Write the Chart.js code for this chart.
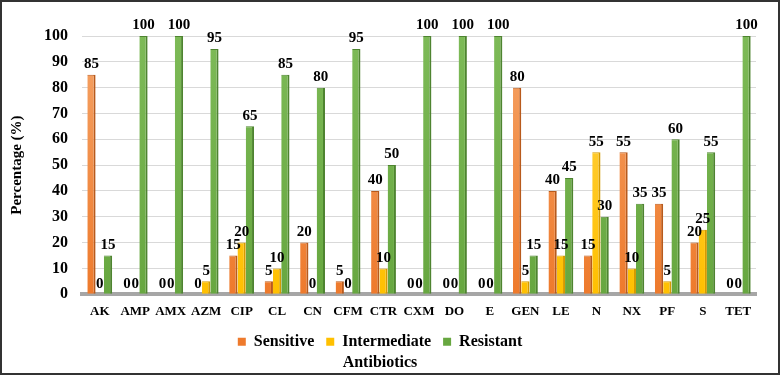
<!DOCTYPE html>
<html>
<head>
<meta charset="utf-8">
<script src="https://cdn.jsdelivr.net/npm/chart.js@4/dist/chart.umd.min.js"></script>
<style>
  html, body { margin: 0; padding: 0; background: #fff; }
  #wrap { width: 780px; height: 375px; border: 2px solid #333; box-sizing: border-box; position: relative; }
</style>
</head>
<body>
<div id="wrap"><canvas id="chart"></canvas></div>
<script>
// antibiotic codes on the x axis
const antibiotics = ['AK', 'AMP', 'AMX', 'AZM', 'CIP', 'CL', 'CN', 'CFM', 'CTR', 'CXM', 'DO', 'E', 'GEN', 'LE', 'N', 'NX', 'PF', 'S', 'TET'];

// percentages
const sensitive    = [85, 0, 0, 0, 15, 5, 20, 5, 40, 0, 0, 0, 80, 40, 15, 55, 35, 20, 0];
const intermediate = [0, 0, 0, 5, 20, 10, 0, 0, 10, 0, 0, 0, 5, 15, 55, 10, 5, 25, 0];
const resistant    = [15, 100, 100, 95, 65, 85, 80, 95, 50, 100, 100, 100, 15, 45, 30, 35, 60, 55, 100];

const yTicks = [0, 10, 20, 30, 40, 50, 60, 70, 80, 90, 100];

const serif = "'Liberation Serif', 'Times New Roman', serif";

// vertical shading like the office 3d bars, lighter at the top
function shade(light, dark) {
    return (c) => {
        const area = c.chart.chartArea;
        if (!area) return dark;
        const g = c.chart.ctx.createLinearGradient(0, area.top, 0, area.bottom);
        g.addColorStop(0, light);
        g.addColorStop(1, dark);
        return g;
    };
}

// draws the number above each bar
const barLabels = {
    id: 'barLabels',
    afterDatasetsDraw(chart) {
        const ctx = chart.ctx;
        ctx.save();
        ctx.font = 'bold 15px ' + serif;
        ctx.fillStyle = '#000';
        ctx.textAlign = 'center';
        ctx.textBaseline = 'bottom';
        chart.data.datasets.forEach((ds, i) => {
            const meta = chart.getDatasetMeta(i);
            meta.data.forEach((bar, j) => {
                ctx.fillText(String(ds.data[j]), bar.x, bar.y - 3);
            });
        });
        ctx.restore();
    }
};

const ctx = document.getElementById('chart').getContext('2d');

new Chart(ctx, {
    type: 'bar',
    data: {
        labels: antibiotics,
        datasets: [
            {
                label: 'Sensitive',
                data: sensitive,
                backgroundColor: shade('#F5A366', '#EE7A2C'),
                borderColor: '#B85A1C',
                borderWidth: {top: 1, right: 2, left: 0, bottom: 0},
                borderSkipped: false
            },
            {
                label: 'Intermediate',
                data: intermediate,
                backgroundColor: shade('#FFD24D', '#FFC000'),
                borderColor: '#D49A00',
                borderWidth: {top: 1, right: 2, left: 0, bottom: 0},
                borderSkipped: false
            },
            {
                label: 'Resistant',
                data: resistant,
                backgroundColor: shade('#7DBA57', '#67A740'),
                borderColor: '#4E8430',
                borderWidth: {top: 1, right: 2, left: 0, bottom: 0},
                borderSkipped: false
            }
        ]
    },
    options: {
        responsive: true,
        maintainAspectRatio: false,
        animation: false,
        layout: {padding: {top: 34, right: 22, left: 2, bottom: 0}},
        datasets: {
            bar: {categoryPercentage: 0.7, barPercentage: 1.0}
        },
        scales: {
            x: {
                grid: {display: false},
                border: {display: true, color: '#A6A6A6', width: 4},
                ticks: {
                    color: '#000',
                    font: {family: serif, size: 13, weight: 'bold'},
                    maxRotation: 0,
                    autoSkip: false,
                    padding: 2
                }
            },
            y: {
                min: 0,
                max: 100,
                afterBuildTicks: (scale) => {
                    scale.ticks = yTicks.map(v => ({value: v}));
                },
                grid: {color: '#D9D9D9', drawTicks: false},
                border: {display: false},
                ticks: {
                    color: '#000',
                    font: {family: serif, size: 16, weight: 'bold'},
                    padding: 14
                },
                title: {
                    display: true,
                    text: 'Percentage (%)',
                    color: '#000',
                    font: {family: serif, size: 15, weight: 'bold'},
                    padding: {bottom: 4}
                }
            }
        },
        plugins: {
            legend: {
                position: 'bottom',
                labels: {
                    color: '#000',
                    font: {family: serif, size: 16, weight: 'bold'},
                    boxWidth: 8,
                    boxHeight: 8,
                    padding: 12,
                    generateLabels: (chart) => {
                        const fills = ['#EE7A2C', '#FFC000', '#67A740'];
                        return chart.data.datasets.map((ds, i) => ({
                            text: ds.label,
                            fillStyle: fills[i],
                            strokeStyle: fills[i],
                            lineWidth: 0,
                            fontColor: '#000',
                            datasetIndex: i
                        }));
                    }
                }
            },
            title: {
                display: true,
                position: 'bottom',
                text: 'Antibiotics',
                color: '#000',
                font: {family: serif, size: 16, weight: 'bold'},
                padding: {top: -7, bottom: 1}
            },
            tooltip: {enabled: false}
        }
    },
    plugins: [barLabels]
});
</script>
</body>
</html>
